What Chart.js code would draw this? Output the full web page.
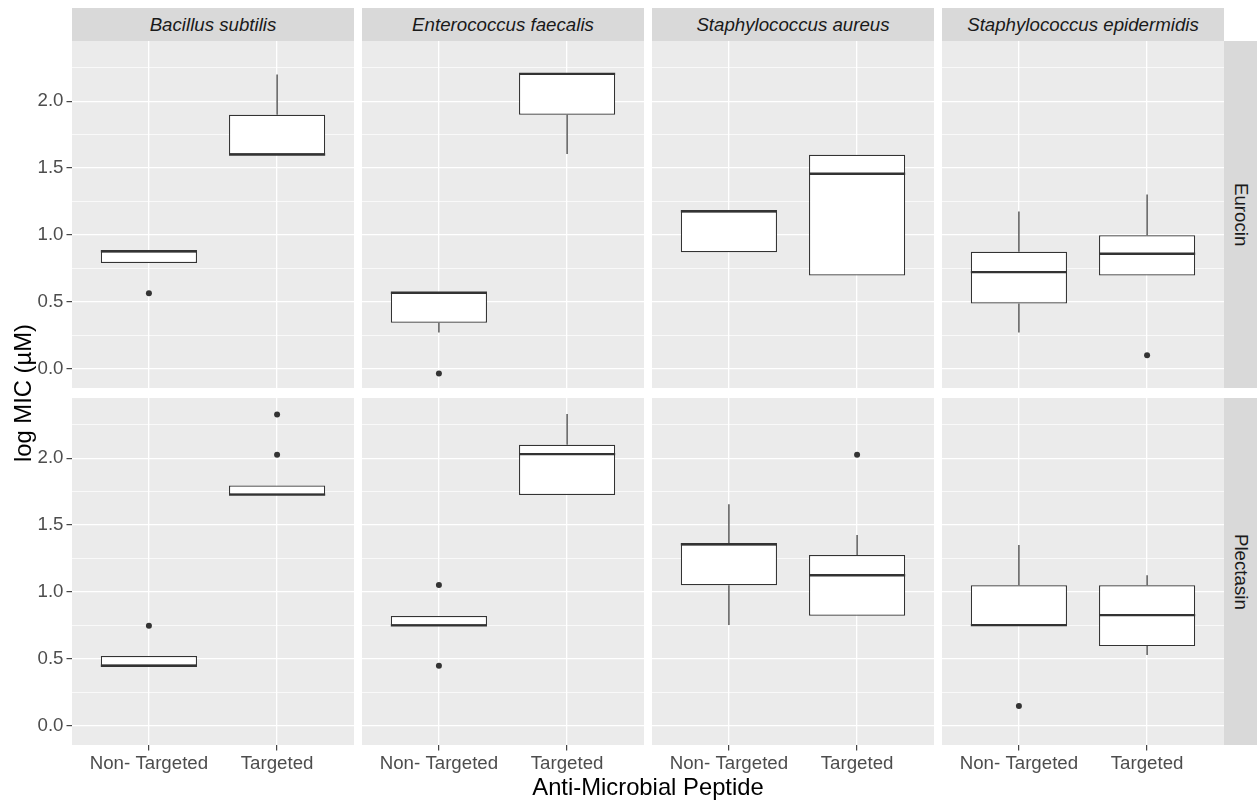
<!DOCTYPE html>
<html>
<head>
<meta charset="utf-8">
<script src="https://cdn.jsdelivr.net/npm/chart.js"></script>
<style>
  body { margin: 0; background: #fff; font-family: "Liberation Sans", Arial, sans-serif; }
  #wrap { position: relative; width: 1257px; height: 802px; overflow: hidden; }
  canvas { position: absolute; }
  .strip { position: absolute; background: #D9D9D9; color: #1A1A1A; font-size: 18.7px;
           display: flex; align-items: center; justify-content: center; white-space: nowrap; }
  .top { font-style: italic; }
  .right { writing-mode: vertical-rl; }
  .title { position: absolute; color: #000; font-size: 23.8px; text-align: center; white-space: nowrap; }
</style>
</head>
<body>
<div id="wrap"></div>
<script>
// facets
const bacteria = ['Bacillus subtilis', 'Enterococcus faecalis', 'Staphylococcus aureus', 'Staphylococcus epidermidis'];
const peptides = ['Eurocin', 'Plectasin'];
const groups = ['Non- Targeted', 'Targeted'];

// box stats per bacterium: [lower whisker, q1, median, q3, upper whisker]
const eurocinNT = [
    [0.790, 0.790, 0.877, 0.877, 0.877],
    [0.269, 0.343, 0.567, 0.567, 0.567],
    [0.870, 0.870, 1.176, 1.176, 1.176],
    [0.269, 0.487, 0.721, 0.873, 1.174],
];
const eurocinT = [
    [1.601, 1.601, 1.601, 1.898, 2.200],
    [1.604, 1.898, 2.204, 2.204, 2.204],
    [0.696, 0.696, 1.457, 1.599, 1.599],
    [0.696, 0.696, 0.858, 0.997, 1.301],
];
const plectasinNT = [
    [0.447, 0.447, 0.447, 0.519, 0.519],
    [0.749, 0.749, 0.749, 0.819, 0.819],
    [0.751, 1.049, 1.356, 1.356, 1.655],
    [0.751, 0.751, 0.751, 1.049, 1.351],
];
const plectasinT = [
    [1.727, 1.727, 1.727, 1.795, 1.795],
    [1.725, 1.725, 2.030, 2.100, 2.330],
    [0.821, 0.821, 1.124, 1.276, 1.425],
    [0.527, 0.594, 0.826, 1.049, 1.124],
];

// outliers per bacterium
const eurocinNTOut = [[0.562], [-0.037], [], []];
const eurocinTOut = [[], [], [], [0.099]];
const plectasinNTOut = [[0.746], [1.051, 0.447], [], [0.145]];
const plectasinTOut = [[2.025, 2.327], [], [2.025], []];

// y axis
const yMajor = [0, 0.5, 1, 1.5, 2];
const yMinor = [0.25, 0.75, 1.25, 1.75, 2.25];
const yMin = -0.146, yMax = 2.45;

// layout
const family = '"Liberation Sans", Arial, sans-serif';
const panelLeft = [72, 362, 652, 942];
const panelTop = [41, 398];
const panelW = 282, panelH = 347, axisH = 57;
const boxW = 0.75;
const ink = '#333333';

const panelBg = {
    id: 'panelBg',
    beforeDraw(chart) {
        const a = chart.chartArea, ctx = chart.ctx;
        ctx.save();
        ctx.fillStyle = '#EBEBEB';
        ctx.fillRect(a.left, a.top, a.width, a.height);
        ctx.restore();
    }
};

function segment(x0, y0, x1, y1, width) {
    return {
        type: 'line',
        data: [{ x: x0, y: y0 }, { x: x1, y: y1 }],
        borderColor: ink,
        borderWidth: width,
        pointRadius: 0,
        fill: false,
    };
}

function boxDatasets(stats, outliers) {
    const ds = [];
    ds.push({
        type: 'scatter',
        data: outliers.flatMap((o, i) => o.map(v => ({ x: i + 1, y: v }))),
        pointRadius: 3,
        pointBackgroundColor: ink,
        pointBorderWidth: 0,
    });
    stats.forEach((s, i) => ds.push(segment(i + 1 - boxW / 2, s[2], i + 1 + boxW / 2, s[2], 2.4)));
    ds.push({
        type: 'bar',
        data: stats.map((s, i) => ({ x: i + 1, y: [s[1], s[3]] })),
        backgroundColor: '#FFFFFF',
        borderColor: ink,
        borderWidth: 1.2,
        borderSkipped: false,
        barPercentage: boxW,
        categoryPercentage: 1,
    });
    stats.forEach((s, i) => {
        if (s[4] > s[3]) ds.push(segment(i + 1, s[3], i + 1, s[4], 1.2));
        if (s[0] < s[1]) ds.push(segment(i + 1, s[0], i + 1, s[1], 1.2));
    });
    return ds;
}

const wrap = document.getElementById('wrap');
const allStats = [[eurocinNT, eurocinT], [plectasinNT, plectasinT]];
const allOut = [[eurocinNTOut, eurocinTOut], [plectasinNTOut, plectasinTOut]];
const isMajor = v => yMajor.includes(v);

peptides.forEach((pep, r) => {
    bacteria.forEach((bac, c) => {
        const canvas = document.createElement('canvas');
        const w = panelW + (c === 0 ? panelLeft[0] : 0);
        const h = panelH + (r === 1 ? axisH : 0);
        canvas.width = w;
        canvas.height = h;
        canvas.style.left = (c === 0 ? 0 : panelLeft[c]) + 'px';
        canvas.style.top = panelTop[r] + 'px';
        canvas.style.width = w + 'px';
        canvas.style.height = h + 'px';
        wrap.appendChild(canvas);

        const stats = allStats[r].map(g => g[c]);
        const outliers = allOut[r].map(g => g[c]);

        new Chart(canvas, {
            type: 'scatter',
            data: { datasets: boxDatasets(stats, outliers) },
            options: {
                responsive: false,
                animation: false,
                events: [],
                layout: { padding: 0, autoPadding: false },
                plugins: { legend: { display: false }, tooltip: { enabled: false } },
                scales: {
                    x: {
                        type: 'linear',
                        min: 0.4,
                        max: 2.6,
                        offset: false,
                        afterBuildTicks: s => { s.ticks = groups.map((g, i) => ({ value: i + 1 })); },
                        afterFit: s => {
                            s.height = r === 1 ? axisH : 0;
                            s.paddingLeft = 0; s.paddingRight = 0;
                        },
                        ticks: {
                            display: r === 1,
                            autoSkip: false,
                            maxRotation: 0,
                            color: '#4D4D4D',
                            font: { family, size: 18.7 },
                            padding: 2,
                            callback: v => groups[v - 1],
                        },
                        grid: {
                            color: '#FFFFFF',
                            lineWidth: 1.3,
                            offset: false,
                            drawTicks: r === 1,
                            tickLength: 5.5,
                            tickColor: ink,
                            tickWidth: 1.1,
                        },
                        border: { display: false },
                    },
                    y: {
                        type: 'linear',
                        min: yMin,
                        max: yMax,
                        afterBuildTicks: s => {
                            s.ticks = yMajor.concat(yMinor).sort((a, b) => a - b).map(v => ({ value: v }));
                        },
                        afterFit: s => {
                            s.width = c === 0 ? panelLeft[0] : 0;
                            s.paddingTop = 0; s.paddingBottom = 0;
                        },
                        ticks: {
                            display: c === 0,
                            autoSkip: false,
                            color: '#4D4D4D',
                            font: { family, size: 18.7 },
                            padding: 3,
                            callback: v => isMajor(v) ? v.toFixed(1) : '',
                        },
                        grid: {
                            color: '#FFFFFF',
                            lineWidth: ctx => (ctx.tick && isMajor(ctx.tick.value)) ? 1.3 : 0.7,
                            drawTicks: c === 0,
                            tickLength: 5.5,
                            tickWidth: 1.1,
                            tickColor: ctx => (ctx.tick && isMajor(ctx.tick.value)) ? ink : 'rgba(0,0,0,0)',
                        },
                        border: { display: false },
                    },
                },
            },
            plugins: [panelBg],
        });
    });
});

// strips
bacteria.forEach((bac, c) => {
    const d = document.createElement('div');
    d.className = 'strip top';
    d.style.left = panelLeft[c] + 'px';
    d.style.top = '8px';
    d.style.width = panelW + 'px';
    d.style.height = (panelTop[0] - 8) + 'px';
    d.textContent = bac;
    wrap.appendChild(d);
});
peptides.forEach((pep, r) => {
    const d = document.createElement('div');
    d.className = 'strip right';
    d.style.left = (panelLeft[3] + panelW) + 'px';
    d.style.top = panelTop[r] + 'px';
    d.style.width = (1257 - panelLeft[3] - panelW) + 'px';
    d.style.height = panelH + 'px';
    d.textContent = pep;
    wrap.appendChild(d);
});

// axis titles
const yTitle = document.createElement('div');
yTitle.className = 'title';
yTitle.textContent = 'log MIC (µM)';
yTitle.style.cssText += 'left:-77px;top:378px;width:200px;height:30px;line-height:30px;transform:rotate(-90deg);';
wrap.appendChild(yTitle);

const xTitle = document.createElement('div');
xTitle.className = 'title';
xTitle.textContent = 'Anti-Microbial Peptide';
xTitle.style.cssText += 'left:72px;top:775px;width:1152px;line-height:24px;';
wrap.appendChild(xTitle);
</script>
</body>
</html>
